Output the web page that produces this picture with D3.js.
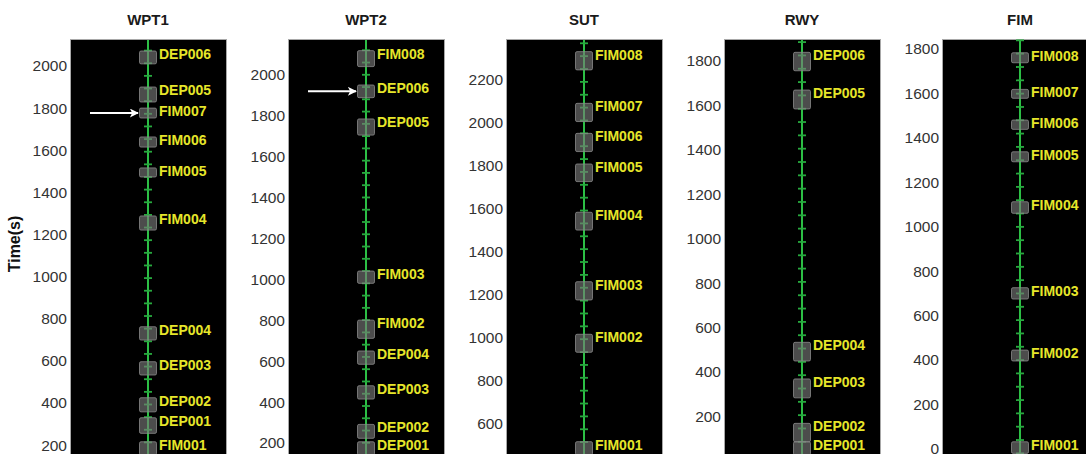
<!DOCTYPE html>
<html>
<head>
<meta charset="utf-8">
<script src="https://cdn.jsdelivr.net/npm/d3@7/dist/d3.min.js"></script>
<style>
  html, body { margin: 0; padding: 0; background: #fff; }
  svg { display: block; font-family: "Liberation Sans", Arial, Helvetica, sans-serif; }
</style>
</head>
<body>
<svg id="chart" width="1086" height="454"></svg>
<script>
// Occupancy windows (seconds) of each flight at each fix, one array per fix.
const panelTitles = ["WPT1", "WPT2", "SUT", "RWY", "FIM"];

const wpt1Events = [
  { label: "DEP006", start: 2010, end: 2071 },
  { label: "DEP005", start: 1829, end: 1900 },
  { label: "FIM007", start: 1753, end: 1800 },
  { label: "FIM006", start: 1615, end: 1663 },
  { label: "FIM005", start: 1473, end: 1516 },
  { label: "FIM004", start: 1221, end: 1288 },
  { label: "DEP004", start: 699, end: 762 },
  { label: "DEP003", start: 533, end: 596 },
  { label: "DEP002", start: 358, end: 425 },
  { label: "DEP001", start: 256, end: 330 },
  { label: "FIM001", start: 153, end: 216 }
];
const wpt2Events = [
  { label: "FIM008", start: 2041, end: 2119 },
  { label: "DEP006", start: 1889, end: 1951 },
  { label: "DEP005", start: 1706, end: 1785 },
  { label: "FIM003", start: 981, end: 1041 },
  { label: "FIM002", start: 712, end: 801 },
  { label: "DEP004", start: 585, end: 650 },
  { label: "DEP003", start: 415, end: 480 },
  { label: "DEP002", start: 223, end: 291 },
  { label: "DEP001", start: 141, end: 206 }
];
const sutEvents = [
  { label: "FIM008", start: 2247, end: 2332 },
  { label: "FIM007", start: 2006, end: 2091 },
  { label: "FIM006", start: 1866, end: 1951 },
  { label: "FIM005", start: 1726, end: 1808 },
  { label: "FIM004", start: 1500, end: 1583 },
  { label: "FIM003", start: 1174, end: 1259 },
  { label: "FIM002", start: 930, end: 1014 },
  { label: "FIM001", start: 451, end: 513 }
];
const rwyEvents = [
  { label: "DEP006", start: 1756, end: 1839 },
  { label: "DEP005", start: 1584, end: 1669 },
  { label: "DEP004", start: 449, end: 533 },
  { label: "DEP003", start: 283, end: 368 },
  { label: "DEP002", start: 85, end: 168 },
  { label: "DEP001", start: 25, end: 85 }
];
const fimEvents = [
  { label: "FIM008", start: 1738, end: 1783 },
  { label: "FIM007", start: 1578, end: 1618 },
  { label: "FIM006", start: 1438, end: 1480 },
  { label: "FIM005", start: 1292, end: 1337 },
  { label: "FIM004", start: 1060, end: 1112 },
  { label: "FIM003", start: 674, end: 725 },
  { label: "FIM002", start: 395, end: 444 },
  { label: "FIM001", start: -21, end: 31 }
];

// Visible time range of each axis and its labelled ticks
const wpt1Domain = [82, 2128];
const wpt2Domain = [68, 2176];
const sutDomain = [381, 2391];
const rwyDomain = [-42, 1899];
const fimDomain = [-96, 1845];

const wpt1Ticks = [200, 400, 600, 800, 1000, 1200, 1400, 1600, 1800, 2000];
const wpt2Ticks = [200, 400, 600, 800, 1000, 1200, 1400, 1600, 1800, 2000];
const sutTicks = [600, 800, 1000, 1200, 1400, 1600, 1800, 2000, 2200];
const rwyTicks = [200, 400, 600, 800, 1000, 1200, 1400, 1600, 1800];
const fimTicks = [0, 200, 400, 600, 800, 1000, 1200, 1400, 1600, 1800];

// Flights highlighted with an arrow
const highlighted = [
  { panel: "WPT1", label: "FIM007" },
  { panel: "WPT2", label: "DEP006" }
];

const minuteStep = 60;

const panels = [
  { title: panelTitles[0], events: wpt1Events, domain: wpt1Domain, ticks: wpt1Ticks },
  { title: panelTitles[1], events: wpt2Events, domain: wpt2Domain, ticks: wpt2Ticks },
  { title: panelTitles[2], events: sutEvents, domain: sutDomain, ticks: sutTicks },
  { title: panelTitles[3], events: rwyEvents, domain: rwyDomain, ticks: rwyTicks },
  { title: panelTitles[4], events: fimEvents, domain: fimDomain, ticks: fimTicks }
];

const svg = d3.select("#chart");
const layout = { left: 70, step: 218, width: 156, top: 39, bottom: 470 };

const defs = svg.append("defs");
defs.append("marker")
  .attr("id", "arrowhead")
  .attr("viewBox", "0 0 10 10")
  .attr("refX", 9).attr("refY", 5)
  .attr("markerWidth", 5).attr("markerHeight", 4.5)
  .attr("markerUnits", "strokeWidth")
  .attr("orient", "auto")
  .append("path")
  .attr("d", "M0,0 L10,5 L0,10 L2.5,5 Z")
  .attr("fill", "#fff");

panels.forEach((p, i) => {
  const x0 = layout.left + layout.step * i;
  const cx = x0 + layout.width / 2;
  const y = d3.scaleLinear().domain(p.domain).range([layout.bottom, layout.top]);
  const g = svg.append("g");

  g.append("rect")
    .attr("x", x0 + 0.5).attr("y", layout.top + 0.5)
    .attr("width", layout.width).attr("height", layout.bottom - layout.top)
    .attr("fill", "#000").attr("stroke", "#a8a8a8").attr("stroke-width", 1);

  const axis = g.append("g")
    .attr("transform", `translate(${x0},0)`)
    .call(d3.axisLeft(y).tickValues(p.ticks).tickSize(0).tickPadding(3).tickFormat(d3.format("d")));
  axis.select(".domain").remove();
  axis.selectAll("text")
    .attr("font-size", 15.5)
    .attr("font-family", "Liberation Sans, Arial, sans-serif")
    .attr("fill", "#333");

  g.append("text")
    .attr("x", cx).attr("y", 25)
    .attr("text-anchor", "middle")
    .attr("font-size", 15).attr("font-weight", "bold")
    .attr("fill", "#1a1a1a")
    .text(p.title);

  // trajectory line with a mark every minute
  g.append("line")
    .attr("x1", cx).attr("x2", cx)
    .attr("y1", layout.top + 1).attr("y2", layout.bottom)
    .attr("stroke", "#2cbf45").attr("stroke-width", 2);

  const firstStart = d3.min(p.events, d => d.start);
  const minutes = d3.range(firstStart, p.domain[1], minuteStep);
  g.selectAll(".minute").data(minutes).join("line")
    .attr("x1", cx - 4).attr("x2", cx + 4)
    .attr("y1", d => y(d)).attr("y2", d => y(d))
    .attr("stroke", "#27a93e").attr("stroke-width", 1.8);

  g.selectAll(".slot").data(p.events).join("rect")
    .attr("x", cx - 8.5)
    .attr("y", d => y(d.end))
    .attr("width", 17)
    .attr("height", d => y(d.start) - y(d.end))
    .attr("rx", 1.5)
    .attr("fill", "#7a7a7a").attr("fill-opacity", 0.62)
    .attr("stroke", "#8a8a8a").attr("stroke-opacity", 0.8).attr("stroke-width", 1);

  g.selectAll(".flight").data(p.events).join("text")
    .attr("x", cx + 11)
    .attr("y", d => y(d.end) + 3)
    .attr("dominant-baseline", "central")
    .attr("font-size", 14).attr("font-weight", "bold")
    .attr("fill", "#e6e62a")
    .text(d => d.label);

  highlighted.filter(h => h.panel === p.title).forEach(h => {
    const ev = p.events.find(e => e.label === h.label);
    const ym = y((ev.start + ev.end) / 2);
    g.append("line")
      .attr("x1", cx - 58).attr("x2", cx - 10)
      .attr("y1", ym).attr("y2", ym)
      .attr("stroke", "#fff").attr("stroke-width", 2)
      .attr("marker-end", "url(#arrowhead)");
  });
});

svg.append("text")
  .attr("transform", "translate(20,244) rotate(-90)")
  .attr("text-anchor", "middle")
  .attr("font-size", 16).attr("font-weight", "bold")
  .attr("fill", "#111")
  .text("Time(s)");
</script>
</body>
</html>
